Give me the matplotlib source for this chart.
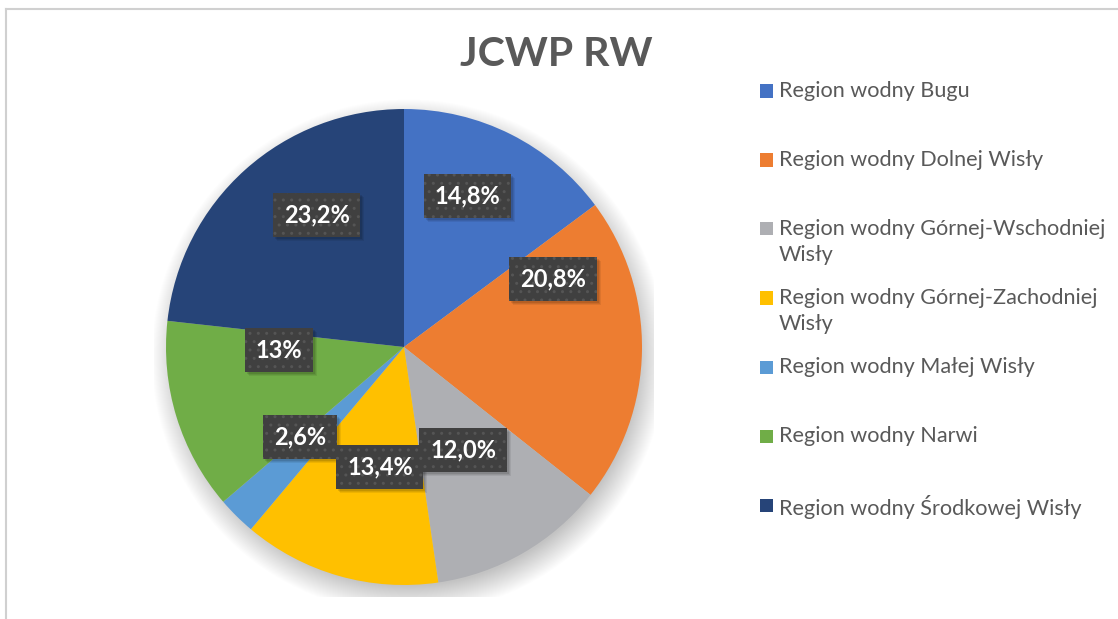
import textwrap
import matplotlib
matplotlib.use("Agg")
import matplotlib.pyplot as plt
from matplotlib.patches import Rectangle, Circle
from matplotlib.lines import Line2D

plt.rcParams['font.family'] = ['Lato', 'DejaVu Sans']

# ---- data ----
title = "JCWP RW"
regions = [
    "Region wodny Bugu",
    "Region wodny Dolnej Wisły",
    "Region wodny Górnej-Wschodniej Wisły",
    "Region wodny Górnej-Zachodniej Wisły",
    "Region wodny Małej Wisły",
    "Region wodny Narwi",
    "Region wodny Środkowej Wisły",
]
values = [14.8, 20.8, 12.0, 13.4, 2.6, 13.0, 23.2]
value_labels = ["14,8%", "20,8%", "12,0%", "13,4%", "2,6%", "13%", "23,2%"]

# ---- style / layout ----
colors = ["#4472C4", "#ED7D31", "#AEAFB3", "#FFC000", "#5B9BD5", "#70AD47", "#264478"]
label_pos = [(0.265, 0.634), (0.626, 0.286), (0.248, -0.433), (-0.101, -0.504),
             (-0.437, -0.378), (-0.525, -0.013), (-0.366, 0.555)]

W, H, DPI = 1118, 619, 100
fig = plt.figure(figsize=(W / DPI, H / DPI), dpi=DPI)
fig.patch.set_facecolor("white")

cx, cy, R = 404, 347, 238
half = 250
ax = fig.add_axes([(cx - half) / W, (H - cy - half) / H, 2 * half / W, 2 * half / H])

# soft shadow under pie
n = 30
for i in range(n):
    ax.add_patch(Circle((0.02, -0.04), 0.96 + 0.12 * (n - i) / n, color="black",
                        alpha=0.006, lw=0, zorder=0))

wedges, _ = ax.pie(values, colors=colors, startangle=90, counterclock=False,
                   radius=1.0, center=(0, 0), wedgeprops=dict(linewidth=0))
for w in wedges:
    w.set_zorder(1)

lim = half / R
ax.set_xlim(-lim, lim)
ax.set_ylim(-lim, lim)
ax.set_aspect("equal")
ax.axis("off")

label_texts = []
for lbl, (x, y) in zip(value_labels, label_pos):
    t = ax.text(x, y, lbl, ha="center", va="center", fontsize=17, fontweight="bold",
                color="white", zorder=4,
                bbox=dict(boxstyle="square,pad=0.45", facecolor="#404040",
                          edgecolor="#555555", hatch="..", lw=0))
    label_texts.append(t)

# title
fig.text(556 / W, 1 - 54 / H, title, ha="center", va="center", fontsize=29.5,
         fontweight="bold", color="#595959")

# legend (manual, Excel-like even spacing)
y0, dy = 91, 69
for i, (name, w) in enumerate(zip(regions, wedges)):
    y = y0 + i * dy
    fig.add_artist(Rectangle((760 / W, 1 - (y + 6.5) / H), 13 / W, 13 / H,
                             transform=fig.transFigure, facecolor=w.get_facecolor(), lw=0))
    txt = textwrap.fill(name, width=30, break_on_hyphens=False)
    fig.text(779 / W, 1 - (y - 10) / H, txt, ha="left", va="top", fontsize=15.6,
             color="#595959", linespacing=1.36)

# chart border (partially visible)
fig.add_artist(Line2D([5.5 / W, 5.5 / W], [0, 1 - 8.5 / H], transform=fig.transFigure,
                      color="#D0D0D0", lw=1.5))
fig.add_artist(Line2D([5.5 / W, 1], [1 - 8.5 / H, 1 - 8.5 / H], transform=fig.transFigure,
                      color="#D0D0D0", lw=1.5))

# soft drop shadows behind the label boxes
fig.canvas.draw()
for t in label_texts:
    bb = t.get_bbox_patch().get_window_extent()
    for k, a in ((4, 0.07), (3, 0.08), (2, 0.1)):
        ax.add_patch(Rectangle((bb.x0 + k, bb.y0 - k), bb.width, bb.height,
                               transform=None, facecolor="black", alpha=a, lw=0, zorder=3))

fig.savefig("out.png", dpi=DPI)
